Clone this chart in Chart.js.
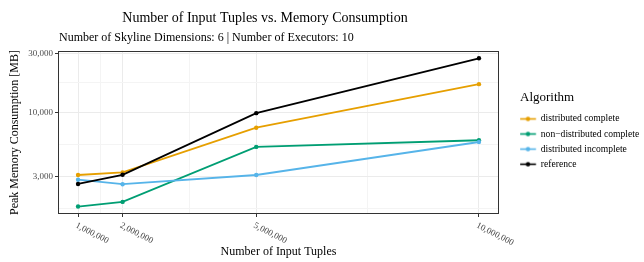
<!DOCTYPE html>
<html>
<head>
<meta charset="utf-8">
<script src="https://cdn.jsdelivr.net/npm/chart.js@4"></script>
<style>
  html, body { margin: 0; padding: 0; background: #fff; }
</style>
</head>
<body>
<canvas id="memChart" width="644" height="262"></canvas>
<script>
// data
var tuples = [1000000, 2000000, 5000000, 10000000];
var seriesNames = ['distributed complete', 'non\u2212distributed complete', 'distributed incomplete', 'reference'];
var distComplete = [3100, 3250, 7500, 16900];
var nonDistComplete = [1720, 1875, 5240, 5930];
var distIncomplete = [2840, 2610, 3100, 5740];
var reference = [2620, 3110, 9840, 27400];
var seriesColors = ['#E69F00', '#009E73', '#56B4E9', '#000000'];

var yMajorTicks = [3000, 10000, 30000];
var yMinorTicks = [1643, 5477, 17321];
var xMinorTicks = [1500000, 3500000, 7500000];

var titleText = 'Number of Input Tuples vs. Memory Consumption';
var subtitleText = 'Number of Skyline Dimensions: 6 | Number of Executors: 10';

var SERIF = '"Liberation Serif", "DejaVu Serif", serif';

function toPoints(values) {
    return tuples.map(function(t, i) { return {x: t, y: values[i]}; });
}

// small line + dot picture for the legend keys
function makeKey(color) {
    var c = document.createElement('canvas');
    c.width = 22;
    c.height = 7;
    var g = c.getContext('2d');
    g.strokeStyle = color;
    g.lineWidth = 1.6;
    g.beginPath();
    g.moveTo(0.25, 3.5);
    g.lineTo(16.25, 3.5);
    g.stroke();
    g.fillStyle = color;
    g.beginPath();
    g.arc(8.25, 3.5, 2.2, 0, Math.PI * 2);
    g.fill();
    return c;
}
var keys = seriesColors.map(makeKey);

var allSeries = [distComplete, nonDistComplete, distIncomplete, reference];
var drawOrder = [4, 3, 2, 1]; // reference ends up on top, like ggplot

var datasets = allSeries.map(function(vals, i) {
    return {
        label: seriesNames[i],
        data: toPoints(vals),
        borderColor: seriesColors[i],
        backgroundColor: seriesColors[i],
        pointBackgroundColor: seriesColors[i],
        pointBorderWidth: 0,
        pointRadius: 2.2,
        borderWidth: 1.8,
        tension: 0,
        order: drawOrder[i]
    };
});

function isMajorY(v) {
    return yMajorTicks.indexOf(v) !== -1;
}
function isMajorX(v) {
    return tuples.indexOf(v) !== -1;
}

var extras = {
    id: 'extras',
    afterDraw: function(chart) {
        var ctx = chart.ctx;
        var a = chart.chartArea;
        ctx.save();
        // panel border
        ctx.strokeStyle = '#333333';
        ctx.lineWidth = 1;
        ctx.strokeRect(Math.round(a.left) + 0.5, Math.round(a.top) + 0.5,
            Math.round(a.right - a.left) - 1, Math.round(a.bottom - a.top) - 1);

        // title and subtitle
        ctx.fillStyle = '#000';
        ctx.textBaseline = 'middle';
        ctx.textAlign = 'center';
        ctx.font = '14px ' + SERIF;
        ctx.fillText(titleText, 265, 18);
        ctx.textAlign = 'left';
        ctx.font = '12px ' + SERIF;
        ctx.fillText(subtitleText, 59, 38);

        // slanted x tick labels
        var xs = chart.scales.x;
        ctx.fillStyle = '#4D4D4D';
        ctx.font = '9px ' + SERIF;
        ctx.textBaseline = 'top';
        tuples.forEach(function(t) {
            ctx.save();
            ctx.translate(xs.getPixelForValue(t), a.bottom + 7);
            ctx.rotate(27 * Math.PI / 180);
            ctx.fillText(t.toLocaleString('en-US'), 0, 0);
            ctx.restore();
        });
        ctx.restore();
    }
};

var memChart = new Chart(document.getElementById('memChart').getContext('2d'), {
    type: 'line',
    data: { datasets: datasets },
    plugins: [extras],
    options: {
        responsive: false,
        animation: false,
        devicePixelRatio: 1,
        layout: { padding: { top: 51, left: 0, right: 0, bottom: 0 } },
        scales: {
            x: {
                type: 'linear',
                min: 550000,
                max: 10450000,
                afterBuildTicks: function(scale) {
                    scale.ticks = tuples.concat(xMinorTicks).sort(function(p, q) { return p - q; })
                        .map(function(v) { return {value: v}; });
                },
                afterFit: function(scale) { scale.height = 48; },
                ticks: { display: false, autoSkip: false },
                grid: {
                    color: function(c) { return isMajorX(c.tick && c.tick.value) ? '#EBEBEB' : '#F4F4F4'; },
                    lineWidth: 1,
                    tickLength: 3,
                    tickColor: function(c) { return isMajorX(c.tick && c.tick.value) ? '#333333' : 'rgba(0,0,0,0)'; }
                },
                border: { display: false },
                title: {
                    display: true,
                    text: 'Number of Input Tuples',
                    color: '#000',
                    font: { family: SERIF, size: 12 },
                    padding: { top: 0, bottom: 3 }
                }
            },
            y: {
                type: 'logarithmic',
                min: 1496,
                max: 31400,
                afterBuildTicks: function(scale) {
                    scale.ticks = yMajorTicks.concat(yMinorTicks).sort(function(p, q) { return p - q; })
                        .map(function(v) { return {value: v}; });
                },
                afterFit: function(scale) { scale.width = 58; },
                ticks: {
                    autoSkip: false,
                    padding: 2,
                    color: '#4D4D4D',
                    font: { family: SERIF, size: 9 },
                    callback: function(v) { return isMajorY(v) ? v.toLocaleString('en-US') : ''; }
                },
                grid: {
                    color: function(c) { return isMajorY(c.tick && c.tick.value) ? '#EBEBEB' : '#F4F4F4'; },
                    lineWidth: 1,
                    tickLength: 3,
                    tickColor: function(c) { return isMajorY(c.tick && c.tick.value) ? '#333333' : 'rgba(0,0,0,0)'; }
                },
                border: { display: false },
                title: {
                    display: true,
                    text: 'Peak Memory Consumption [MB]',
                    color: '#000',
                    font: { family: SERIF, size: 12 },
                    padding: { top: 8, bottom: 0 }
                }
            },
            // empty spacer between the panel and the legend
            y2: {
                type: 'linear',
                position: 'right',
                display: true,
                afterFit: function(scale) { scale.width = 21; },
                ticks: { display: false },
                grid: { display: false, drawTicks: false },
                border: { display: false }
            }
        },
        plugins: {
            title: { display: false },
            tooltip: { enabled: false },
            legend: {
                position: 'right',
                align: 'start',
                maxWidth: 124,
                title: {
                    display: true,
                    text: 'Algorithm',
                    position: 'start',
                    color: '#000',
                    font: { family: SERIF, size: 13 },
                    padding: { top: 40, bottom: 2 }
                },
                labels: {
                    usePointStyle: true,
                    pointStyleWidth: 10.5,
                    padding: 5.5,
                    color: '#000',
                    font: { family: SERIF, size: 9.6 },
                    generateLabels: function(chart) {
                        var items = Chart.defaults.plugins.legend.labels.generateLabels(chart);
                        items.sort(function(p, q) { return p.datasetIndex - q.datasetIndex; });
                        items.forEach(function(it) { it.pointStyle = keys[it.datasetIndex]; });
                        return items;
                    }
                }
            }
        }
    }
});
</script>
</body>
</html>
